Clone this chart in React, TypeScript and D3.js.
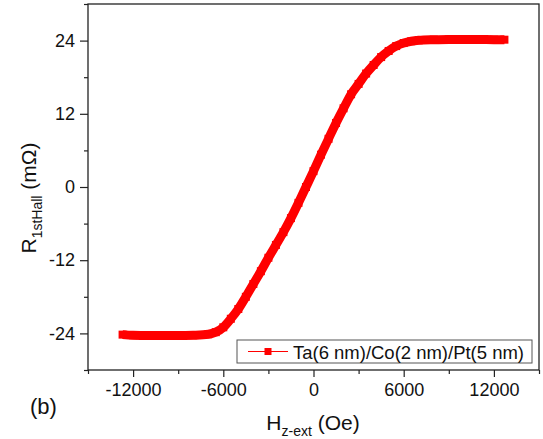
import React, { useEffect, useRef } from "react";
import * as d3 from "d3";

// field (Oe) and first harmonic Hall resistance (mOhm)
const fieldOe = [
  -12700, -12000, -11000, -10000, -9000, -8000, -7000, -6500, -6000, -5500,
  -5000, -4500, -4000, -3500, -3000, -2500, -2000, -1500, -1000, -500, 0, 500,
  1000, 1500, 2000, 2500, 3000, 3500, 4000, 4500, 5000, 5500, 6000, 6500, 7000,
  8000, 9000, 10000, 11000, 12000, 12700,
];
const rHall = [
  -24.2, -24.3, -24.35, -24.35, -24.35, -24.3, -24.15, -23.8, -23.0, -21.6,
  -20.0, -18.0, -15.9, -13.8, -11.6, -9.5, -7.4, -5.1, -2.6, 0.0, 2.6, 5.3,
  7.9, 10.5, 12.9, 15.2, 16.9, 18.6, 20.0, 21.3, 22.3, 23.1, 23.6, 23.9, 24.05,
  24.15, 24.2, 24.2, 24.2, 24.15, 24.15,
];
const xTicks = [-12000, -6000, 0, 6000, 12000];
const xMinor = [-15000, -9000, -3000, 3000, 9000, 15000];
const yTicks = [-24, -12, 0, 12, 24];
const yMinor = [-30, -18, -6, 6, 18, 30];
const legendLabel = "Ta(6 nm)/Co(2 nm)/Pt(5 nm)";

const FONT = "'Liberation Sans', Arial, sans-serif";

export default function App() {
  const svgRef = useRef<SVGSVGElement>(null);

  useEffect(() => {
    const svg = d3.select(svgRef.current);
    svg.selectAll("*").remove();

    const left = 88, right = 539, top = 4, bottom = 370;
    const x = d3.scaleLinear().domain([-15000, 15000]).range([left, right]);
    const y = d3.scaleLinear().domain([-30, 30]).range([bottom, top]);
    const axisColor = "#222";
    const fmt = (d: any) => (d < 0 ? "-" + Math.abs(d) : String(d));

    const data = fieldOe.map((h, i) => ({ h, r: rHall[i] }));

    // frame
    svg.append("rect")
      .attr("x", left).attr("y", top)
      .attr("width", right - left).attr("height", bottom - top)
      .attr("fill", "none").attr("stroke", axisColor).attr("stroke-width", 1.3);

    // x axis
    const gx = svg.append("g").attr("transform", `translate(0,${bottom})`);
    gx.call(d3.axisBottom(x).tickValues(xTicks).tickSize(7).tickPadding(6).tickFormat(fmt));
    gx.selectAll("text")
      .attr("font-family", FONT).attr("font-size", 18).attr("fill", "#111");
    const gxm = svg.append("g").attr("transform", `translate(0,${bottom})`);
    gxm.call(d3.axisBottom(x).tickValues(xMinor).tickSize(4).tickFormat(() => ""));
    [gx, gxm].forEach((g) => {
      g.selectAll(".domain").remove();
      g.selectAll("line").attr("stroke", axisColor).attr("stroke-width", 1.2);
    });

    // y axis
    const gy = svg.append("g").attr("transform", `translate(${left},0)`);
    gy.call(d3.axisLeft(y).tickValues(yTicks).tickSize(8).tickPadding(5).tickFormat(fmt));
    gy.selectAll("text")
      .attr("font-family", FONT).attr("font-size", 18).attr("fill", "#111");
    const gym = svg.append("g").attr("transform", `translate(${left},0)`);
    gym.call(d3.axisLeft(y).tickValues(yMinor).tickSize(4).tickFormat(() => ""));
    [gy, gym].forEach((g) => {
      g.selectAll(".domain").remove();
      g.selectAll("line").attr("stroke", axisColor).attr("stroke-width", 1.2);
    });

    // curve
    const line = d3.line<{ h: number; r: number }>()
      .x((d) => x(d.h)).y((d) => y(d.r))
      .curve(d3.curveMonotoneX);
    svg.append("path")
      .datum(data)
      .attr("d", line)
      .attr("fill", "none").attr("stroke", "#ff0000")
      .attr("stroke-width", 9).attr("stroke-linejoin", "round");
    svg.append("g").selectAll("rect")
      .data(data)
      .join("rect")
      .attr("x", (d) => x(d.h) - 4).attr("y", (d) => y(d.r) - 4)
      .attr("width", 8).attr("height", 8)
      .attr("fill", "#ff0000");

    // legend
    const lg = svg.append("g");
    lg.append("rect")
      .attr("x", 237).attr("y", 340).attr("width", 295).attr("height", 23)
      .attr("fill", "white").attr("stroke", "#555").attr("stroke-width", 1);
    lg.append("line")
      .attr("x1", 248).attr("x2", 288).attr("y1", 351.5).attr("y2", 351.5)
      .attr("stroke", "#ff0000").attr("stroke-width", 1);
    lg.append("rect")
      .attr("x", 264.5).attr("y", 348).attr("width", 7).attr("height", 7)
      .attr("fill", "#ff0000");
    lg.append("text")
      .attr("x", 293).attr("y", 358.5)
      .attr("font-family", FONT).attr("font-size", 18.5).attr("fill", "#111")
      .attr("textLength", 231).attr("lengthAdjust", "spacingAndGlyphs")
      .text(legendLabel);

    // axis titles
    const xt = svg.append("text")
      .attr("x", 313).attr("y", 430)
      .attr("text-anchor", "middle")
      .attr("font-family", FONT).attr("font-size", 21).attr("fill", "#111");
    xt.append("tspan").text("H");
    xt.append("tspan").attr("dy", 6).attr("font-size", 14).text("z-ext");
    xt.append("tspan").attr("dy", -6).text(" (Oe)");

    const yt = svg.append("text")
      .attr("transform", "translate(36,198) rotate(-90)")
      .attr("text-anchor", "middle")
      .attr("font-family", FONT).attr("font-size", 21).attr("fill", "#111");
    yt.append("tspan").text("R");
    yt.append("tspan").attr("dy", 6).attr("font-size", 14).text("1stHall");
    yt.append("tspan").attr("dy", -6).text(" (m\u03A9)");

    svg.append("text")
      .attr("x", 30).attr("y", 414)
      .attr("font-family", FONT).attr("font-size", 22).attr("fill", "#111")
      .text("(b)");
  }, []);

  return (
    <svg
      ref={svgRef}
      width={543}
      height={439}
      style={{ position: "absolute", left: 0, top: 0, background: "white" }}
    />
  );
}
